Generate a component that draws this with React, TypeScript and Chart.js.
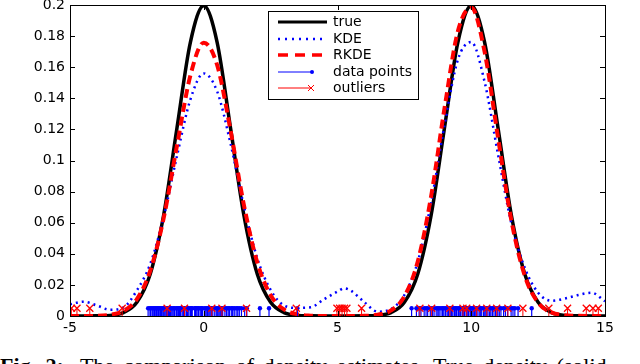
import React, { useEffect, useRef } from "react";
import { Chart, registerables } from "chart.js";

Chart.register(...registerables);

// ---- data ----
const X_GRID = [
  -5, -4.5, -4, -3.5, -3, -2.5, -2, -1.5, -1, -0.5, 0, 0.5, 1, 1.5, 2, 2.5, 3, 3.5, 4, 4.5, 5,
  5.25,
  5.5, 6, 6.5, 7, 7.5, 8, 8.5, 9, 9.5, 10, 10.5, 11, 11.5, 12, 12.5, 13, 13.5, 14, 14.5, 15,
];

const TRUE_DENSITY = [
  0, 0, 0.0001, 0.0004, 0.0022, 0.0088, 0.027, 0.0648, 0.121, 0.176, 0.1995, 0.176, 0.121, 0.0648, 0.027, 0.0088, 0.0022, 0.0004, 0.0001, 0, 0,
  0,
  0, 0.0001, 0.0004, 0.0022, 0.0088, 0.027, 0.0648, 0.121, 0.176, 0.1995, 0.176, 0.121, 0.0648, 0.027, 0.0088, 0.0022, 0.0004, 0.0001, 0, 0,
];

const KDE_DENSITY = [
  0.0075, 0.0092, 0.0068, 0.004, 0.0055, 0.0165, 0.0335, 0.0635, 0.103, 0.1392, 0.156, 0.1445, 0.111, 0.0708, 0.0372, 0.0168, 0.0068, 0.0052, 0.0056, 0.0108, 0.0157,
  0.0178,
  0.0163, 0.009, 0.0028, 0.0045, 0.0135, 0.0348, 0.073, 0.1228, 0.1648, 0.1762, 0.1505, 0.104, 0.0595, 0.031, 0.015, 0.0098, 0.0112, 0.0135, 0.015, 0.0095,
];

const RKDE_DENSITY = [
  0, 0, 0.0001, 0.0008, 0.0033, 0.0108, 0.0291, 0.0628, 0.1097, 0.1546, 0.1758, 0.1614, 0.1195, 0.0715, 0.0345, 0.0134, 0.0042, 0.0011, 0.0002, 0, 0,
  0,
  0, 0.0001, 0.0008, 0.0036, 0.0126, 0.035, 0.077, 0.1336, 0.1831, 0.1984, 0.1698, 0.1148, 0.0614, 0.0259, 0.0086, 0.0023, 0.0005, 0.0001, 0, 0,
];

const DATA_POINTS = [
  -2.08, -2.01, -1.97, -1.91, -1.86, -1.82, -1.77, -1.72, -1.69, -1.64, -1.6, -1.56, -1.51, -1.46, -1.41, -1.37, -1.32,
  -1.28, -1.24, -1.19, -1.14, -1.09, -1.03, -0.99, -0.94, -0.9, -0.87, -0.81, -0.76, -0.71, -0.65, -0.61, -0.56, -0.5,
  -0.46, -0.43, -0.34, -0.31, -0.28, -0.22, -0.19, -0.13, -0.08, -0.04, 0.04, 0.09, 0.14, 0.19, 0.24, 0.29, 0.34, 0.41,
  0.47, 0.52, 0.57, 0.62, 0.67, 0.71, 0.79, 0.85, 0.91, 0.96, 1.03, 1.08, 1.14, 1.21, 1.27, 1.33, 1.41, 1.53, 1.61,
  2.1, 2.44, 3.5,
  7.77, 7.95, 8.05, 8.12, 8.24, 8.31, 8.37, 8.47, 8.55, 8.61, 8.69, 8.75, 8.8, 8.87, 8.93, 8.98, 9.04, 9.1, 9.15, 9.21,
  9.26, 9.31, 9.37, 9.42, 9.46, 9.52, 9.57, 9.61, 9.67, 9.72, 9.76, 9.82, 9.87, 9.91, 9.97, 10.02, 10.07, 10.12, 10.17,
  10.22, 10.29, 10.34, 10.39, 10.46, 10.51, 10.56, 10.62, 10.68, 10.73, 10.79, 10.85, 10.91, 10.99, 11.05, 11.11,
  11.21, 11.28, 11.36, 11.49, 11.56, 11.63, 11.75, 12.26,
];

const OUTLIERS = [
  -4.95, -4.74, -4.26, -3.05, -1.37, -0.72, 0.3, 0.68, 1.6, 3.46, 4.98, 5.08, 5.17, 5.26, 5.35, 5.9,
  8.08, 8.52, 9.2, 9.69, 9.83, 10.2, 10.58, 10.95, 11.37, 11.93, 12.9, 13.6, 14.3, 14.55, 14.75,
];

const STEM_HEIGHT = 0.005;
const X_TICKS = [-5, 0, 5, 10, 15];
const Y_TICKS = [0, 0.02, 0.04, 0.06, 0.08, 0.1, 0.12, 0.14, 0.16, 0.18, 0.2];
const LEGEND_LABELS = ["true", "KDE", "RKDE", "data points", "outliers"];
const CAPTION_BOLD = "Fig. 2:";
const CAPTION_TEXT = "The comparison of density estimates. True density (solid";

const FONT = '"DejaVu Sans", sans-serif';

const stems = (xs: number[]) =>
  xs.flatMap((x) => [
    { x, y: 0 },
    { x, y: STEM_HEIGHT },
    { x, y: null as any },
  ]);

const curve = (ys: number[]) => X_GRID.map((x, i) => ({ x, y: ys[i] }));

const framePlugin = {
  id: "frameAndLegend",
  afterDraw(chart: any) {
    const { ctx, chartArea, scales } = chart;
    const { left, right, top, bottom } = chartArea;
    ctx.save();
    ctx.strokeStyle = "#000";
    ctx.lineWidth = 1;
    ctx.setLineDash([]);
    ctx.strokeRect(Math.round(left) + 0.5, Math.round(top) + 0.5, Math.round(right - left), Math.round(bottom - top));
    const tl = 5;
    ctx.beginPath();
    X_TICKS.forEach((v) => {
      const px = Math.round(scales.x.getPixelForValue(v)) + 0.5;
      ctx.moveTo(px, bottom);
      ctx.lineTo(px, bottom - tl);
      ctx.moveTo(px, top);
      ctx.lineTo(px, top + tl);
    });
    Y_TICKS.forEach((v) => {
      const py = Math.round(scales.y.getPixelForValue(v)) + 0.5;
      ctx.moveTo(left, py);
      ctx.lineTo(left + tl, py);
      ctx.moveTo(right, py);
      ctx.lineTo(right - tl, py);
    });
    ctx.stroke();

    // legend box
    const bx = 268, by = 11, bw = 150, bh = 88;
    ctx.fillStyle = "#fff";
    ctx.fillRect(bx, by, bw, bh);
    ctx.strokeStyle = "#000";
    ctx.strokeRect(bx + 0.5, by + 0.5, bw, bh);
    const rows = [22, 39, 55, 72, 88];
    const x0 = 278, x1 = 327;
    // true
    ctx.beginPath();
    ctx.strokeStyle = "#000";
    ctx.lineWidth = 3;
    ctx.moveTo(x0, rows[0]);
    ctx.lineTo(x1, rows[0]);
    ctx.stroke();
    // KDE
    ctx.beginPath();
    ctx.strokeStyle = "#0000ff";
    ctx.lineWidth = 2.5;
    ctx.setLineDash([2, 5]);
    ctx.moveTo(x0, rows[1]);
    ctx.lineTo(x1, rows[1]);
    ctx.stroke();
    // RKDE
    ctx.beginPath();
    ctx.strokeStyle = "#ff0000";
    ctx.lineWidth = 3.5;
    ctx.setLineDash([10, 7]);
    ctx.moveTo(x0, rows[2]);
    ctx.lineTo(x1, rows[2]);
    ctx.stroke();
    ctx.setLineDash([]);
    // data points
    ctx.beginPath();
    ctx.strokeStyle = "#0000ff";
    ctx.lineWidth = 1;
    ctx.moveTo(x0, rows[3]);
    ctx.lineTo(312, rows[3]);
    ctx.stroke();
    ctx.beginPath();
    ctx.fillStyle = "#0000ff";
    ctx.arc(312, rows[3], 2, 0, Math.PI * 2);
    ctx.fill();
    // outliers
    ctx.beginPath();
    ctx.strokeStyle = "#ff0000";
    ctx.lineWidth = 1;
    ctx.moveTo(x0, rows[4]);
    ctx.lineTo(311, rows[4]);
    const s = 3;
    ctx.moveTo(311 - s, rows[4] - s);
    ctx.lineTo(311 + s, rows[4] + s);
    ctx.moveTo(311 - s, rows[4] + s);
    ctx.lineTo(311 + s, rows[4] - s);
    ctx.stroke();

    ctx.fillStyle = "#000";
    ctx.font = `14px ${FONT}`;
    ctx.textBaseline = "middle";
    ctx.textAlign = "left";
    LEGEND_LABELS.forEach((t, i) => ctx.fillText(t, 333, rows[i]));
    ctx.restore();
  },
};

export default function App() {
  const ref = useRef<HTMLCanvasElement | null>(null);

  useEffect(() => {
    if (!ref.current) return;
    const chart = new Chart(ref.current, {
      type: "line",
      data: {
        datasets: [
          {
            label: "true",
            data: curve(TRUE_DENSITY),
            borderColor: "#000000",
            borderWidth: 3.5,
            pointRadius: 0,
            cubicInterpolationMode: "monotone",
            order: 5,
          },
          {
            label: "KDE",
            data: curve(KDE_DENSITY),
            borderColor: "#0000ff",
            borderWidth: 2.5,
            borderDash: [2, 4],
            pointRadius: 0,
            cubicInterpolationMode: "monotone",
            order: 4,
          },
          {
            label: "RKDE",
            data: curve(RKDE_DENSITY),
            borderColor: "#ff0000",
            borderWidth: 4,
            borderDash: [9, 5],
            pointRadius: 0,
            cubicInterpolationMode: "monotone",
            order: 3,
          },
          {
            label: "data points",
            data: stems(DATA_POINTS),
            borderColor: "#0000ff",
            borderWidth: 1.2,
            spanGaps: false,
            pointStyle: "circle",
            pointRadius: (c: any) => (c.index % 3 === 1 ? 2.2 : 0),
            pointBackgroundColor: "#0000ff",
            pointBorderWidth: 0,
            order: 2,
          },
          {
            label: "outliers",
            data: stems(OUTLIERS),
            borderColor: "#ff0000",
            borderWidth: 1,
            spanGaps: false,
            pointStyle: "crossRot",
            pointRadius: (c: any) => (c.index % 3 === 1 ? 5 : 0),
            pointBorderColor: "#ff0000",
            pointBorderWidth: 1.3,
            order: 1,
          },
        ] as any,
      },
      options: {
        animation: false,
        responsive: false,
        events: [],
        layout: { padding: { left: 0, right: 35, top: 5, bottom: 0 } },
        plugins: { legend: { display: false }, tooltip: { enabled: false } },
        scales: {
          x: {
            type: "linear",
            min: -5,
            max: 15,
            afterBuildTicks: (s: any) => {
              s.ticks = X_TICKS.map((v) => ({ value: v }));
            },
            ticks: {
              color: "#000",
              font: { family: FONT, size: 14 },
              padding: 4,
              maxRotation: 0,
              callback: (v: any) => String(v),
            },
            grid: { display: false, drawTicks: false },
            border: { display: false },
            afterFit: (s: any) => {
              s.height = 20;
              s.paddingLeft = 0;
              s.paddingRight = 0;
            },
          },
          y: {
            type: "linear",
            min: 0,
            max: 0.2,
            afterBuildTicks: (s: any) => {
              s.ticks = Y_TICKS.map((v) => ({ value: v }));
            },
            ticks: {
              color: "#000",
              font: { family: FONT, size: 14 },
              padding: 5,
              callback: (v: any) => String(Number(Number(v).toFixed(2))),
            },
            grid: { display: false, drawTicks: false },
            border: { display: false },
            afterFit: (s: any) => {
              s.width = 70;
              s.paddingTop = 0;
              s.paddingBottom = 0;
            },
          },
        },
      } as any,
      plugins: [framePlugin],
    });
    return () => chart.destroy();
  }, []);

  return (
    <div
      style={{
        position: "fixed",
        left: 0,
        top: 0,
        width: 640,
        height: 364,
        overflow: "hidden",
        background: "#fff",
      }}
    >
      <canvas ref={ref} width={640} height={336} style={{ position: "absolute", left: 0, top: 0 }} />
      <div
        style={{
          position: "absolute",
          left: 0,
          top: 355,
          fontFamily: '"Liberation Serif", serif',
          fontSize: 22,
          lineHeight: "22px",
          whiteSpace: "nowrap",
          wordSpacing: 4,
          color: "#000",
        }}
      >
        <b>{CAPTION_BOLD}</b>
        <span style={{ marginLeft: 16 }}>{CAPTION_TEXT}</span>
      </div>
    </div>
  );
}
